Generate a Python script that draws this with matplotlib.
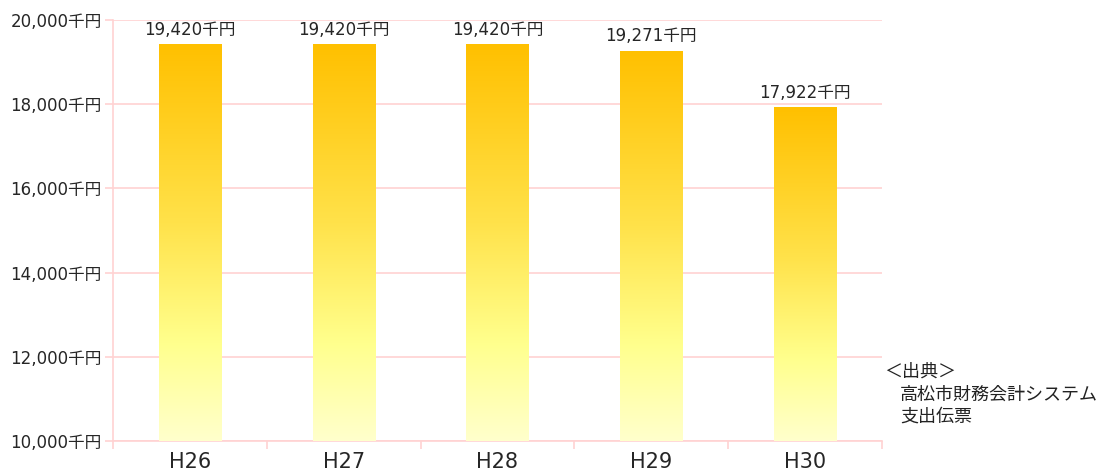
import matplotlib
matplotlib.use("Agg")
import matplotlib.pyplot as plt
import numpy as np
from matplotlib.colors import LinearSegmentedColormap

plt.rcParams['font.family'] = ['DejaVu Sans', 'Noto Sans CJK JP']

categories = ["H26", "H27", "H28", "H29", "H30"]
values = [19420, 19420, 19420, 19271, 17922]
value_labels = ["19,420千円", "19,420千円", "19,420千円", "19,271千円", "17,922千円"]
yticks = [10000, 12000, 14000, 16000, 18000, 20000]
ytick_labels = ["10,000千円", "12,000千円", "14,000千円", "16,000千円", "18,000千円", "20,000千円"]
source_lines = ["＜出典＞", "高松市財務会計システム", "支出伝票"]

fig = plt.figure(figsize=(11, 4.71), dpi=100)
ax = fig.add_axes([0.1027, 0.0637, 0.6991, 0.8938])
ax.set_xlim(-0.5, len(categories) - 0.5)
ax.set_ylim(10000, 20000)

grid_c = "#ffd2d2"
text_c = "#262626"

cmap = LinearSegmentedColormap.from_list(
    "g", [(0.0, "#FFC000"), (0.45, "#FFE24A"), (0.75, "#FFFF8C"), (1.0, "#FFFFCC")])

x = np.arange(len(categories))
bars = ax.bar(x, [v - 10000 for v in values], bottom=10000, width=0.405,
              color="none", edgecolor="none", zorder=3)
grad = np.linspace(0, 1, 256).reshape(-1, 1)
for b, v in zip(bars, values):
    x0 = b.get_x(); w = b.get_width()
    im = ax.imshow(grad, cmap=cmap, aspect="auto",
                   extent=[x0, x0 + w, 10000, v], origin="upper", zorder=3)
    im.set_clip_path(b)

for xi, v, lab in zip(x, values, value_labels):
    ax.text(xi, v + 130, lab, ha="center", va="bottom", fontsize=12, color=text_c, zorder=4)

ax.set_yticks(yticks)
ax.set_yticklabels(ytick_labels, fontsize=12, color=text_c)
ax.yaxis.grid(True, color=grid_c, linewidth=1.2)
ax.set_axisbelow(True)

ax.set_xticks(x)
ax.set_xticklabels(categories, fontsize=15, color=text_c)
ax.set_xticks(np.arange(-0.5, len(categories)), minor=True)
ax.tick_params(axis="x", which="major", length=0, pad=8)
ax.tick_params(axis="x", which="minor", length=6, color=grid_c, width=1.2)
ax.tick_params(axis="y", length=6, color=grid_c, width=1.2, pad=2)

for s in ["top", "right"]:
    ax.spines[s].set_visible(False)
for s in ["left", "bottom"]:
    ax.spines[s].set_color(grid_c)
    ax.spines[s].set_linewidth(1.2)

src_font = ['Noto Sans CJK JP']
fig.text(884 / 1100, 1 - 372 / 471, source_lines[0], fontsize=13, color="#222222",
         va="center", ha="left", family=src_font)
fig.text(900 / 1100, 1 - 395 / 471, source_lines[1], fontsize=13, color="#222222",
         va="center", ha="left", family=src_font)
fig.text(900 / 1100, 1 - 417 / 471, source_lines[2], fontsize=13, color="#222222",
         va="center", ha="left", family=src_font)

fig.savefig("out.png", dpi=100)
